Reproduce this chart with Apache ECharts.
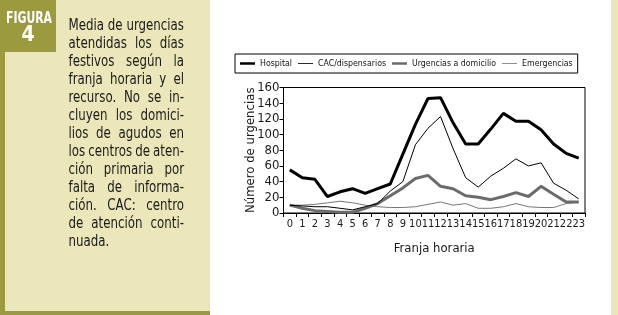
<!DOCTYPE html>
<html>
<head>
<meta charset="utf-8">
<script src="https://cdn.jsdelivr.net/npm/echarts@6/dist/echarts.min.js"></script>
<style>
  html, body { margin: 0; padding: 0; background: #fff; }
  #chart { width: 618px; height: 315px; }
</style>
</head>
<body>
<div id="chart"></div>
<script>
// hourly slots
var hours = ['0', '1', '2', '3', '4', '5', '6', '7', '8', '9', '10', '11',
  '12', '13', '14', '15', '16', '17', '18', '19', '20', '21', '22', '23']

// mean number of urgencies per slot
var hospital = [55, 45, 43, 21, 27, 31, 25, 31, 37, 75, 113, 146, 147, 115, 88, 88, 107, 127, 117, 117, 106, 88, 76, 70]
var cac = [10, 9, 8, 8, 6, 4, 8, 12, 28, 40, 87, 108, 123, 82, 45, 33, 47, 57, 69, 60, 64, 38, 29, 18]
var domicilio = [10, 6, 3, 2, 1, 1, 6, 12, 22, 32, 44, 48, 34, 31, 22, 20, 17, 21, 26, 21, 34, 24, 14, 14]
var emergencias = [10, 10, 11, 13, 15, 13, 10, 8, 7, 7, 8, 11, 14, 10, 12, 6, 6, 8, 12, 8, 7, 7, 12, 14]

var seriesNames = ['Hospital', 'CAC/dispensarios', 'Urgencias a domicilio', 'Emergencias']

var yTicks = { min: 0, max: 160, interval: 20 }

// caption of the figure, one entry per printed line
var captionLines = [
  'Media de urgencias',
  'atendidas los días',
  'festivos según la',
  'franja horaria y el',
  'recurso. No se in-',
  'cluyen los domici-',
  'lios de agudos en',
  'los centros de aten-',
  'ción primaria por',
  'falta de informa-',
  'ción. CAC: centro',
  'de atención conti-',
  'nuada.'
]

var NARROW = '"Liberation Sans Narrow", "DejaVu Sans Condensed", sans-serif'
var BEIGE = '#ebe7bb'
var OLIVE = '#9b9a3e'
var GRAY = '#6b6b6b'

var ctx = document.createElement('canvas').getContext('2d')
function textWidth(s, font) {
  ctx.font = font
  return ctx.measureText(s).width
}

// justified caption: place words so each line spans the same width,
// squeezing the glyphs horizontally when the installed font runs wide
function captionGraphics() {
  var font = '15px ' + NARROW
  var x0 = 68.5, x1 = 184, y0 = 26, lh = 18
  var minGap = 3.5
  var maxNatural = 0
  captionLines.forEach(function (line) {
    var words = line.split(' ')
    var w = words.reduce(function (a, s) { return a + textWidth(s, font) }, 0)
    maxNatural = Math.max(maxNatural, w + minGap * (words.length - 1))
  })
  var sx = Math.min(1, (x1 - x0) / maxNatural)
  var out = []
  captionLines.forEach(function (line, i) {
    var words = line.split(' ')
    var y = y0 + i * lh
    var last = i === captionLines.length - 1
    var widths = words.map(function (w) { return textWidth(w, font) * sx })
    var total = widths.reduce(function (a, b) { return a + b }, 0)
    var gap = (!last && words.length > 1) ? (x1 - x0 - total) / (words.length - 1) : textWidth(' ', font) * sx
    var x = x0
    words.forEach(function (w, k) {
      out.push({
        type: 'text',
        x: x,
        y: y,
        scaleX: sx,
        style: {
          text: w,
          font: font,
          fill: '#1a1a1a',
          textAlign: 'left', align: 'left',
          textVerticalAlign: 'middle', verticalAlign: 'middle'
        }
      })
      x += widths[k] + gap
    })
  })
  return out
}

function fittedLabel(text, font, maxW, x, y) {
  var sx = Math.min(1, maxW / textWidth(text, font))
  return {
    type: 'text', x: x, y: y, scaleX: sx,
    style: {
      text: text, font: font, fill: '#fff',
      textAlign: 'center', align: 'center', textVerticalAlign: 'middle', verticalAlign: 'middle'
    }
  }
}

// legend font size chosen so the boxed legend spans the same width as in the figure
var legendIcon = 15, legendGap = 6, legendPad = 5, legendBoxW = 345
var legendTextW = seriesNames.reduce(function (a, s) { return a + textWidth(s, '10px ' + NARROW) }, 0)
var legendFont = 10 * (legendBoxW - 2 - 2 * legendPad - 4 * (legendIcon + 5) - 3 * legendGap) / legendTextW
legendFont = Math.min(10.5, legendFont)

var chart = echarts.init(document.getElementById('chart'), null, { renderer: 'canvas' })

var graphics = [
  { type: 'rect', shape: { x: 0, y: 0, width: 210, height: 315 }, style: { fill: BEIGE }, z: -10 },
  { type: 'rect', shape: { x: 611, y: 0, width: 7, height: 315 }, style: { fill: BEIGE }, z: -10 },
  { type: 'rect', shape: { x: 0, y: 0, width: 5, height: 315 }, style: { fill: OLIVE }, z: -9 },
  { type: 'rect', shape: { x: 0, y: 311, width: 210, height: 4 }, style: { fill: OLIVE }, z: -9 },
  { type: 'rect', shape: { x: 0, y: 0, width: 56, height: 52 }, style: { fill: OLIVE }, z: -9 },
  fittedLabel('FIGURA', 'bold 16px ' + NARROW, 46, 29, 19),
  fittedLabel('4', 'bold 21px ' + NARROW, 20, 28, 36)
].concat(captionGraphics())

function lineSeries(name, data, color, width, z) {
  return {
    name: name,
    type: 'line',
    data: data,
    symbol: 'none',
    smooth: false,
    z: z,
    lineStyle: { color: color, width: width },
    itemStyle: { color: color },
    emphasis: { disabled: true }
  }
}

var thickIcon = 'path://M0,0H18V3H0Z'
var thinIcon = 'path://M0,0H18V1H0Z'

chart.setOption({
  animation: false,
  backgroundColor: '#fff',
  textStyle: { fontFamily: NARROW },
  graphic: graphics,
  legend: {
    left: 235,
    top: 54,
    padding: [5, legendPad],
    itemWidth: legendIcon,
    itemHeight: 10,
    itemGap: legendGap,
    borderColor: '#000',
    borderWidth: 1,
    textStyle: { fontFamily: NARROW, fontSize: legendFont, color: '#111' },
    data: [
      { name: seriesNames[0], icon: thickIcon, itemStyle: { color: '#000' } },
      { name: seriesNames[1], icon: thinIcon, itemStyle: { color: '#000' } },
      { name: seriesNames[2], icon: thickIcon, itemStyle: { color: GRAY } },
      { name: seriesNames[3], icon: thinIcon, itemStyle: { color: '#777' } }
    ]
  },
  grid: {
    left: 283.5,
    right: 33,
    top: 87.5,
    bottom: 102,
    show: true,
    borderColor: '#000',
    borderWidth: 1,
    backgroundColor: '#fff'
  },
  xAxis: {
    type: 'category',
    data: hours,
    boundaryGap: true,
    name: 'Franja horaria',
    nameLocation: 'middle',
    nameGap: 29,
    nameMoveOverlap: false,
    nameTextStyle: { fontFamily: NARROW, fontSize: 13, color: '#1a1a1a' },
    axisLine: { lineStyle: { color: '#000', width: 1 } },
    axisTick: { show: true, length: 4, lineStyle: { color: '#000' } },
    axisLabel: { interval: 0, fontFamily: NARROW, fontSize: 11, color: '#1a1a1a', margin: 6 },
    splitLine: { show: false }
  },
  yAxis: {
    type: 'value',
    min: yTicks.min,
    max: yTicks.max,
    interval: yTicks.interval,
    name: 'Número de urgencias',
    nameLocation: 'middle',
    nameGap: 26,
    nameMoveOverlap: false,
    nameTextStyle: { fontFamily: NARROW, fontSize: 13, color: '#1a1a1a' },
    axisLine: { show: true, lineStyle: { color: '#000', width: 1 } },
    axisTick: { show: true, length: 4, lineStyle: { color: '#000' } },
    axisLabel: { fontFamily: NARROW, fontSize: 13, color: '#1a1a1a', margin: 4 },
    splitLine: { show: false }
  },
  series: [
    lineSeries(seriesNames[0], hospital, '#000', 3, 4),
    lineSeries(seriesNames[1], cac, '#000', 1, 3),
    lineSeries(seriesNames[2], domicilio, GRAY, 3, 2),
    lineSeries(seriesNames[3], emergencias, '#777', 1, 1)
  ]
})
</script>
</body>
</html>
